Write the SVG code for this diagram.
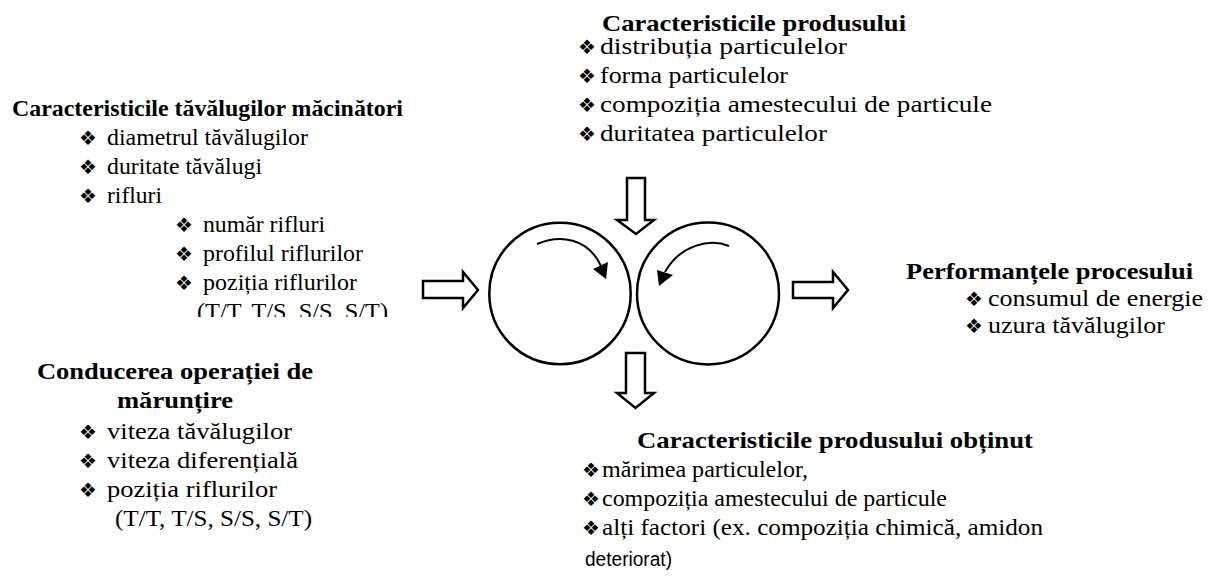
<svg xmlns="http://www.w3.org/2000/svg" width="1213" height="577" viewBox="0 0 1213 577">
<style>
text{font-family:"Liberation Serif","Times New Roman",serif;font-size:23px;fill:#000}
.h{font-weight:bold}
.b{font-family:"DejaVu Sans",sans-serif;font-size:20px}
.s{font-family:"Liberation Sans",Arial,sans-serif;font-size:20px}
.shape{fill:#fff;stroke:#000;stroke-width:2.5}
.roll{fill:none;stroke:#000;stroke-width:2.5}
.rot{fill:none;stroke:#000;stroke-width:2}
.head{fill:#000;stroke:none}
</style>
<defs>
<clipPath id="cut"><rect x="0" y="0" width="480" height="317"/></clipPath>
</defs>
<rect width="1213" height="577" fill="#fff"/>

<g id="rollers">
<circle class="roll" cx="560" cy="293.5" r="70.7"/>
<circle class="roll" cx="708" cy="293.5" r="71"/>
<path class="rot" d="M537,244 C560,234 588,238 601,266"/>
<polygon class="head" points="593,269 608,262 606,279"/>
<path class="rot" d="M729,246 C710,238 680,245 665,272"/>
<polygon class="head" points="657,270 673,275 659,286"/>
</g>

<g id="connectors">
<polygon class="shape" points="423,281 463,281 463,272 478,290 463,308 463,298 423,298"/>
<polygon class="shape" points="793,282 833,282 833,272 848,290 833,308 833,298 793,298"/>
<polygon class="shape" points="627,178 645,178 645,220 654,220 636,234 617,220 627,220"/>
<polygon class="shape" points="626,353 645,353 645,393 654,393 635.5,408 617,393 626,393"/>
</g>

<g id="roll-characteristics">
<text class="h" x="12" y="116" textLength="391" lengthAdjust="spacingAndGlyphs">Caracteristicile tăvălugilor măcinători</text>
<text class="b" x="79" y="145">❖</text><text x="107" y="145" textLength="201" lengthAdjust="spacingAndGlyphs">diametrul tăvălugilor</text>
<text class="b" x="79" y="174">❖</text><text x="107" y="174" textLength="155" lengthAdjust="spacingAndGlyphs">duritate tăvălugi</text>
<text class="b" x="79" y="203">❖</text><text x="107" y="203" textLength="55" lengthAdjust="spacingAndGlyphs">rifluri</text>
<text class="b" x="175" y="232">❖</text><text x="203" y="232" textLength="122" lengthAdjust="spacingAndGlyphs">număr rifluri</text>
<text class="b" x="175" y="261">❖</text><text x="203" y="261" textLength="160" lengthAdjust="spacingAndGlyphs">profilul riflurilor</text>
<text class="b" x="175" y="290">❖</text><text x="203" y="290" textLength="154" lengthAdjust="spacingAndGlyphs">poziția riflurilor</text>
<text x="197" y="319" textLength="191" lengthAdjust="spacingAndGlyphs" clip-path="url(#cut)">(T/T, T/S, S/S, S/T)</text>
</g>

<g id="product-characteristics">
<text class="h" x="602" y="31" textLength="304" lengthAdjust="spacingAndGlyphs">Caracteristicile produsului</text>
<text class="b" x="578" y="54">❖</text><text x="600" y="54" textLength="247" lengthAdjust="spacingAndGlyphs">distribuția particulelor</text>
<text class="b" x="578" y="83">❖</text><text x="600" y="83" textLength="188" lengthAdjust="spacingAndGlyphs">forma particulelor</text>
<text class="b" x="578" y="112">❖</text><text x="600" y="112" textLength="392" lengthAdjust="spacingAndGlyphs">compoziția amestecului de particule</text>
<text class="b" x="578" y="141">❖</text><text x="600" y="141" textLength="227" lengthAdjust="spacingAndGlyphs">duritatea particulelor</text>
</g>

<g id="process-performance">
<text class="h" x="906" y="279" textLength="287" lengthAdjust="spacingAndGlyphs">Performanțele procesului</text>
<text class="b" x="965" y="306">❖</text><text x="988" y="306" textLength="215" lengthAdjust="spacingAndGlyphs">consumul de energie</text>
<text class="b" x="965" y="333">❖</text><text x="988" y="333" textLength="177" lengthAdjust="spacingAndGlyphs">uzura tăvălugilor</text>
</g>

<g id="operation-control">
<text class="h" x="37" y="379" textLength="276" lengthAdjust="spacingAndGlyphs">Conducerea operației de</text>
<text class="h" x="117" y="408" textLength="116" lengthAdjust="spacingAndGlyphs">mărunțire</text>
<text class="b" x="79" y="439">❖</text><text x="107" y="439" textLength="185" lengthAdjust="spacingAndGlyphs">viteza tăvălugilor</text>
<text class="b" x="79" y="468">❖</text><text x="107" y="468" textLength="191" lengthAdjust="spacingAndGlyphs">viteza diferențială</text>
<text class="b" x="79" y="497">❖</text><text x="107" y="497" textLength="170" lengthAdjust="spacingAndGlyphs">poziția riflurilor</text>
<text x="115" y="526" textLength="197" lengthAdjust="spacingAndGlyphs">(T/T, T/S, S/S, S/T)</text>
</g>

<g id="obtained-product">
<text class="h" x="637" y="448" textLength="396" lengthAdjust="spacingAndGlyphs">Caracteristicile produsului obținut</text>
<text class="b" x="582" y="477">❖</text><text x="602" y="477" textLength="206" lengthAdjust="spacingAndGlyphs">mărimea particulelor,</text>
<text class="b" x="582" y="506">❖</text><text x="602" y="506" textLength="345" lengthAdjust="spacingAndGlyphs">compoziția amestecului de particule</text>
<text class="b" x="582" y="535">❖</text><text x="602" y="535" textLength="441" lengthAdjust="spacingAndGlyphs">alți factori (ex. compoziția chimică, amidon</text>
<text class="s" x="585" y="566" textLength="87" lengthAdjust="spacingAndGlyphs">deteriorat)</text>
</g>
</svg>
